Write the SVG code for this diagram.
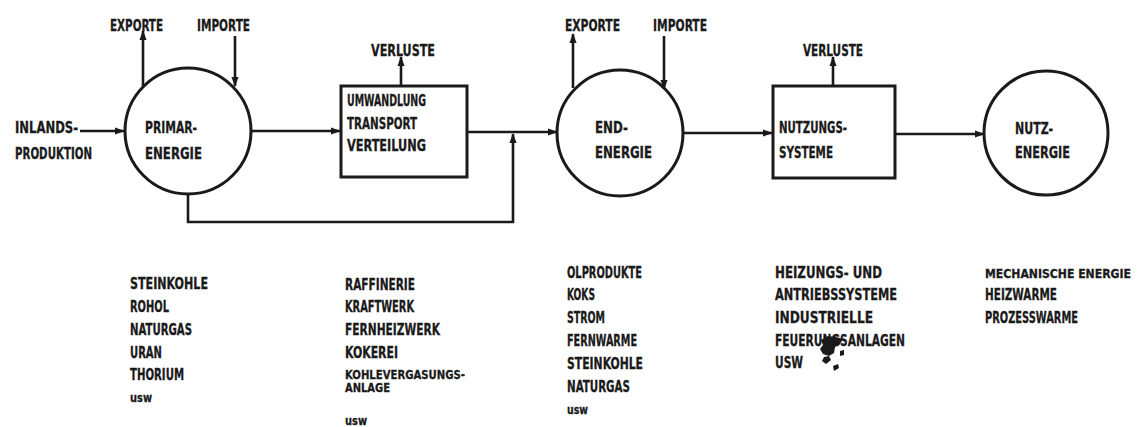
<svg xmlns="http://www.w3.org/2000/svg" width="1141" height="427" viewBox="0 0 1141 427">
  <style>
    .bg { fill: #ffffff; }
    .shape { fill: none; stroke: #1a1a1a; stroke-width: 3; }
    .line { fill: none; stroke: #1a1a1a; stroke-width: 2.6; }
    text { font-family: "Liberation Sans Narrow", "DejaVu Sans Condensed", "Liberation Sans", sans-serif; font-weight: bold; font-size: 16px; fill: #1a1a1a; stroke: #1a1a1a; stroke-width: 0.3; }
    .small { font-size: 13px; }
    .tight { font-size: 13px; }
    .wide { font-size: 13px; }
    .blot { fill: #1a1a1a; }
  </style>
  <defs>
    <marker id="arrow" viewBox="0 0 10 10" refX="9" refY="5" markerWidth="4" markerHeight="4" orient="auto" markerUnits="strokeWidth">
      <path d="M0,1.5 L10,5 L0,8.5 Z" fill="#1a1a1a"/>
    </marker>
  </defs>

  <rect class="bg" x="0" y="0" width="1141" height="427"/>

  <!-- connectors -->
  <g id="connectors">
    <line class="line" x1="80" y1="131" x2="124" y2="131" marker-end="url(#arrow)"/>
    <line class="line" x1="143" y1="86" x2="143" y2="31" marker-end="url(#arrow)"/>
    <line class="line" x1="235" y1="36" x2="235" y2="86" marker-end="url(#arrow)"/>
    <line class="line" x1="251" y1="131" x2="340" y2="131" marker-end="url(#arrow)"/>
    <line class="line" x1="401" y1="86" x2="401" y2="57" marker-end="url(#arrow)"/>
    <line class="line" x1="467" y1="132" x2="557" y2="132" marker-end="url(#arrow)"/>
    <polyline class="line" points="188,195 188,222 513,222 513,134" marker-end="url(#arrow)"/>
    <line class="line" x1="573" y1="88" x2="573" y2="34" marker-end="url(#arrow)"/>
    <line class="line" x1="664" y1="36" x2="664" y2="89" marker-end="url(#arrow)"/>
    <line class="line" x1="683" y1="133" x2="772" y2="133" marker-end="url(#arrow)"/>
    <line class="line" x1="833" y1="86" x2="833" y2="57" marker-end="url(#arrow)"/>
    <line class="line" x1="895" y1="134" x2="984" y2="134" marker-end="url(#arrow)"/>
  </g>

  <!-- flow labels -->
  <g id="flow-labels">
    <text x="15" y="133" textLength="63" lengthAdjust="spacingAndGlyphs">INLANDS-</text>
    <text x="15" y="159" textLength="77" lengthAdjust="spacingAndGlyphs">PRODUKTION</text>
    <text x="110" y="31" textLength="53" lengthAdjust="spacingAndGlyphs">EXPORTE</text>
    <text x="197" y="31" textLength="53" lengthAdjust="spacingAndGlyphs">IMPORTE</text>
    <text x="371" y="56" textLength="64" lengthAdjust="spacingAndGlyphs">VERLUSTE</text>
    <text x="565" y="31" textLength="55" lengthAdjust="spacingAndGlyphs">EXPORTE</text>
    <text x="653" y="31" textLength="54" lengthAdjust="spacingAndGlyphs">IMPORTE</text>
    <text x="803" y="56" textLength="60" lengthAdjust="spacingAndGlyphs">VERLUSTE</text>
  </g>

  <g id="primaerenergie">
    <circle class="shape" cx="188" cy="131" r="63"/>
    <text x="145" y="133" textLength="52" lengthAdjust="spacingAndGlyphs">PRIMAR-</text>
    <text x="145" y="159" textLength="57" lengthAdjust="spacingAndGlyphs">ENERGIE</text>
  </g>

  <g id="umwandlung">
    <rect class="shape" x="341" y="86" width="126" height="91"/>
    <text x="347" y="106" textLength="79" lengthAdjust="spacingAndGlyphs">UMWANDLUNG</text>
    <text x="347" y="129" textLength="70" lengthAdjust="spacingAndGlyphs">TRANSPORT</text>
    <text x="347" y="151" textLength="79" lengthAdjust="spacingAndGlyphs">VERTEILUNG</text>
  </g>

  <g id="endenergie">
    <circle class="shape" cx="620" cy="133" r="63"/>
    <text x="595" y="133" textLength="33" lengthAdjust="spacingAndGlyphs">END-</text>
    <text x="595" y="158" textLength="57" lengthAdjust="spacingAndGlyphs">ENERGIE</text>
  </g>

  <g id="nutzungssysteme">
    <rect class="shape" x="773" y="86" width="122" height="92"/>
    <text x="779" y="133" textLength="68" lengthAdjust="spacingAndGlyphs">NUTZUNGS-</text>
    <text x="779" y="158" textLength="54" lengthAdjust="spacingAndGlyphs">SYSTEME</text>
  </g>

  <g id="nutzenergie">
    <circle class="shape" cx="1046" cy="133" r="62"/>
    <text x="1015" y="134" textLength="38" lengthAdjust="spacingAndGlyphs">NUTZ-</text>
    <text x="1015" y="158" textLength="55" lengthAdjust="spacingAndGlyphs">ENERGIE</text>
  </g>

  <!-- examples under each stage -->
  <g id="list-primaer">
    <text x="130" y="289" textLength="78" lengthAdjust="spacingAndGlyphs">STEINKOHLE</text>
    <text x="130" y="312" textLength="39" lengthAdjust="spacingAndGlyphs">ROHOL</text>
    <text x="130" y="335" textLength="62" lengthAdjust="spacingAndGlyphs">NATURGAS</text>
    <text x="130" y="358" textLength="32" lengthAdjust="spacingAndGlyphs">URAN</text>
    <text x="130" y="380" textLength="54" lengthAdjust="spacingAndGlyphs">THORIUM</text>
    <text class="small" x="130" y="402" textLength="22" lengthAdjust="spacingAndGlyphs">usw</text>
  </g>

  <g id="list-umwandlung">
    <text x="345" y="290" textLength="70" lengthAdjust="spacingAndGlyphs">RAFFINERIE</text>
    <text x="345" y="312" textLength="69" lengthAdjust="spacingAndGlyphs">KRAFTWERK</text>
    <text x="345" y="335" textLength="95" lengthAdjust="spacingAndGlyphs">FERNHEIZWERK</text>
    <text x="345" y="358" textLength="53" lengthAdjust="spacingAndGlyphs">KOKEREI</text>
    <text class="tight" x="345" y="379" textLength="120" lengthAdjust="spacingAndGlyphs">KOHLEVERGASUNGS-</text>
    <text class="tight" x="345" y="392" textLength="45" lengthAdjust="spacingAndGlyphs">ANLAGE</text>
    <text class="small" x="345" y="425" textLength="22" lengthAdjust="spacingAndGlyphs">usw</text>
  </g>

  <g id="list-end">
    <text x="567" y="278" textLength="75" lengthAdjust="spacingAndGlyphs">OLPRODUKTE</text>
    <text x="567" y="300" textLength="28" lengthAdjust="spacingAndGlyphs">KOKS</text>
    <text x="567" y="323" textLength="38" lengthAdjust="spacingAndGlyphs">STROM</text>
    <text x="567" y="346" textLength="70" lengthAdjust="spacingAndGlyphs">FERNWARME</text>
    <text x="567" y="369" textLength="76" lengthAdjust="spacingAndGlyphs">STEINKOHLE</text>
    <text x="567" y="392" textLength="63" lengthAdjust="spacingAndGlyphs">NATURGAS</text>
    <text class="small" x="567" y="414" textLength="21" lengthAdjust="spacingAndGlyphs">usw</text>
  </g>

  <g id="list-nutzung">
    <text x="775" y="278" textLength="107" lengthAdjust="spacingAndGlyphs">HEIZUNGS- UND</text>
    <text x="775" y="300" textLength="122" lengthAdjust="spacingAndGlyphs">ANTRIEBSSYSTEME</text>
    <text x="775" y="323" textLength="98" lengthAdjust="spacingAndGlyphs">INDUSTRIELLE</text>
    <text x="775" y="346" textLength="130" lengthAdjust="spacingAndGlyphs">FEUERUNGSANLAGEN</text>
    <text x="775" y="368" textLength="28" lengthAdjust="spacingAndGlyphs">USW</text>
    <!-- ink blot over the lower lines -->
    <path class="blot" d="M821,340 L828,336 L836,337 L843,339 L840,344 L835,347 L834,353 L829,356 L823,354 L820,349 L823,345 Z"/>
    <path class="blot" d="M824,357 L829,356 L831,360 L826,364 L822,361 Z"/>
    <path class="blot" d="M833,366 L838,364 L839,368 L834,371 Z"/>
    <path class="blot" d="M840,351 L844,350 L844,355 L840,356 Z"/>
  </g>

  <g id="list-nutzenergie">
    <text class="wide" x="985" y="278" textLength="146" lengthAdjust="spacingAndGlyphs">MECHANISCHE ENERGIE</text>
    <text x="985" y="300" textLength="72" lengthAdjust="spacingAndGlyphs">HEIZWARME</text>
    <text x="985" y="323" textLength="93" lengthAdjust="spacingAndGlyphs">PROZESSWARME</text>
  </g>
</svg>
